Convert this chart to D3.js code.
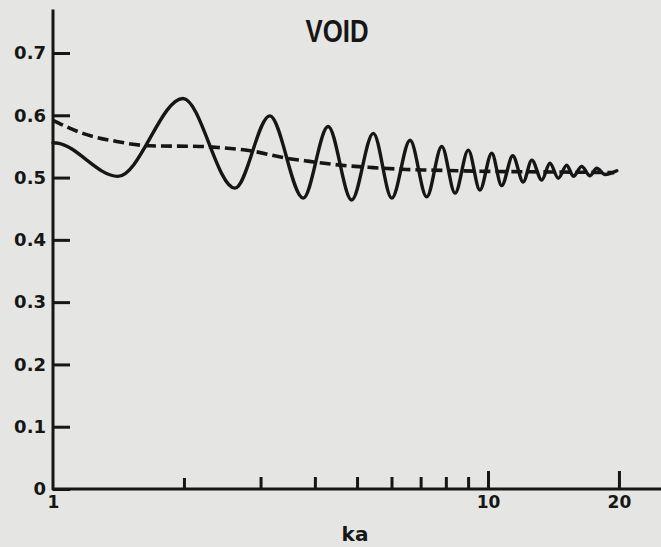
<!DOCTYPE html>
<html>
<head>
<meta charset="utf-8">
<script src="https://cdn.jsdelivr.net/npm/d3@7"></script>
<style>
  html, body { margin: 0; padding: 0; background: #e5e5e3; }
  svg { display: block; }
</style>
</head>
<body>
<div id="container"></div>
<script>
/* DATA */
// solid curve (oscillating), ka vs value
const solidKa = [1.0, 1.02, 1.41, 1.99, 2.62, 3.15, 3.76, 4.29, 4.86, 5.45, 6.01, 6.62, 7.23, 7.83,
  8.40, 9.01, 9.58, 10.2, 10.75, 11.4, 12.05, 12.61, 13.29, 13.88, 14.51, 15.17, 15.71, 16.42,
  17.16, 17.78, 18.58, 19.77];
const solidVal = [0.556, 0.5555, 0.502, 0.627, 0.483, 0.599, 0.467, 0.582, 0.464, 0.571, 0.467, 0.560,
  0.469, 0.550, 0.475, 0.544, 0.480, 0.539, 0.487, 0.535, 0.493, 0.528, 0.496, 0.523, 0.499, 0.520,
  0.502, 0.518, 0.503, 0.515, 0.505, 0.511];

// dashed curve (smooth average)
const dashKa = [1.0, 1.17, 1.40, 1.67, 2.18, 2.42, 2.84, 3.45, 3.89, 4.57, 5.44, 6.50, 7.36, 10, 14, 19.5];
const dashVal = [0.592, 0.571, 0.558, 0.551, 0.550, 0.548, 0.543, 0.531, 0.526, 0.520, 0.516, 0.513,
  0.512, 0.510, 0.509, 0.508];

const yTicks = [0, 0.1, 0.2, 0.3, 0.4, 0.5, 0.6, 0.7];
const xTicks = [1, 2, 3, 4, 5, 6, 7, 8, 9, 10, 20];
const xLabels = [1, 10, 20];

/* CONSTANTS */
const width = 661;
const height = 547;
const ink = "#161616";

const svg = d3.select("#container")
  .append("svg")
  .attr("width", width)
  .attr("height", height);

// SCALES
const x = d3.scaleLog()
  .domain([1, 25])
  .range([53, 53 + 435 * Math.log10(25)]);

const y = d3.scaleLinear()
  .domain([0, 0.7])
  .range([489, 53]);

// AXES
const yAxis = svg.append("g")
  .attr("transform", `translate(${x(1)},0)`)
  .call(d3.axisLeft(y)
    .tickValues(yTicks)
    .tickSize(-17)
    .tickPadding(7)
    .tickFormat(d => d === 0 ? "0" : d.toFixed(1)));

yAxis.select(".domain").remove();
yAxis.selectAll(".tick line").attr("stroke", ink).attr("stroke-width", 3);
yAxis.selectAll(".tick text")
  .attr("fill", ink)
  .style("font-family", "DejaVu Sans, sans-serif")
  .style("font-weight", "bold")
  .style("font-size", "18px");

const xAxis = svg.append("g")
  .attr("transform", `translate(0,${y(0)})`)
  .call(d3.axisBottom(x)
    .tickValues(xTicks)
    .tickSize(-12)
    .tickPadding(7)
    .tickFormat(d => xLabels.includes(d) ? d : ""));

xAxis.select(".domain").remove();
xAxis.selectAll(".tick line")
  .attr("stroke", ink)
  .attr("stroke-width", 3)
  .attr("y2", d => d >= 10 ? -18 : (d === 2 ? -11 : -12))
  .attr("display", d => d === 1 ? "none" : null);
xAxis.selectAll(".tick text")
  .attr("fill", ink)
  .style("font-family", "DejaVu Sans, sans-serif")
  .style("font-weight", "bold")
  .style("font-size", "17px");

// axis lines
svg.append("line")
  .attr("x1", x(1)).attr("x2", x(1))
  .attr("y1", y(0.77)).attr("y2", y(0) + 1)
  .attr("stroke", ink).attr("stroke-width", 3);

svg.append("line")
  .attr("x1", x(1) - 1).attr("x2", width)
  .attr("y1", y(0)).attr("y2", y(0))
  .attr("stroke", ink).attr("stroke-width", 3);

// LINES
const line = d3.line()
  .x(d => x(d[0]))
  .y(d => y(d[1]))
  .curve(d3.curveMonotoneX);

svg.append("path")
  .datum(dashKa.map((k, i) => [k, dashVal[i]]))
  .attr("d", line)
  .attr("fill", "none")
  .attr("stroke", ink)
  .attr("stroke-width", 3.6)
  .attr("stroke-dasharray", "11,5");

svg.append("path")
  .datum(solidKa.map((k, i) => [k, solidVal[i]]))
  .attr("d", line)
  .attr("fill", "none")
  .attr("stroke", ink)
  .attr("stroke-width", 3.4)
  .attr("stroke-linejoin", "round")
  .attr("stroke-linecap", "round");

// TEXT
svg.append("text")
  .attr("x", 337)
  .attr("y", 42)
  .attr("text-anchor", "middle")
  .attr("textLength", 63)
  .attr("lengthAdjust", "spacingAndGlyphs")
  .attr("fill", ink)
  .style("font-family", "Liberation Sans Narrow, Liberation Sans, sans-serif")
  .style("font-weight", "bold")
  .style("font-size", "32px")
  .text("VOID");

svg.append("text")
  .attr("x", 355)
  .attr("y", 541)
  .attr("text-anchor", "middle")
  .attr("fill", ink)
  .style("font-family", "DejaVu Sans, sans-serif")
  .style("font-weight", "bold")
  .style("font-size", "20px")
  .text("ka");
</script>
</body>
</html>
